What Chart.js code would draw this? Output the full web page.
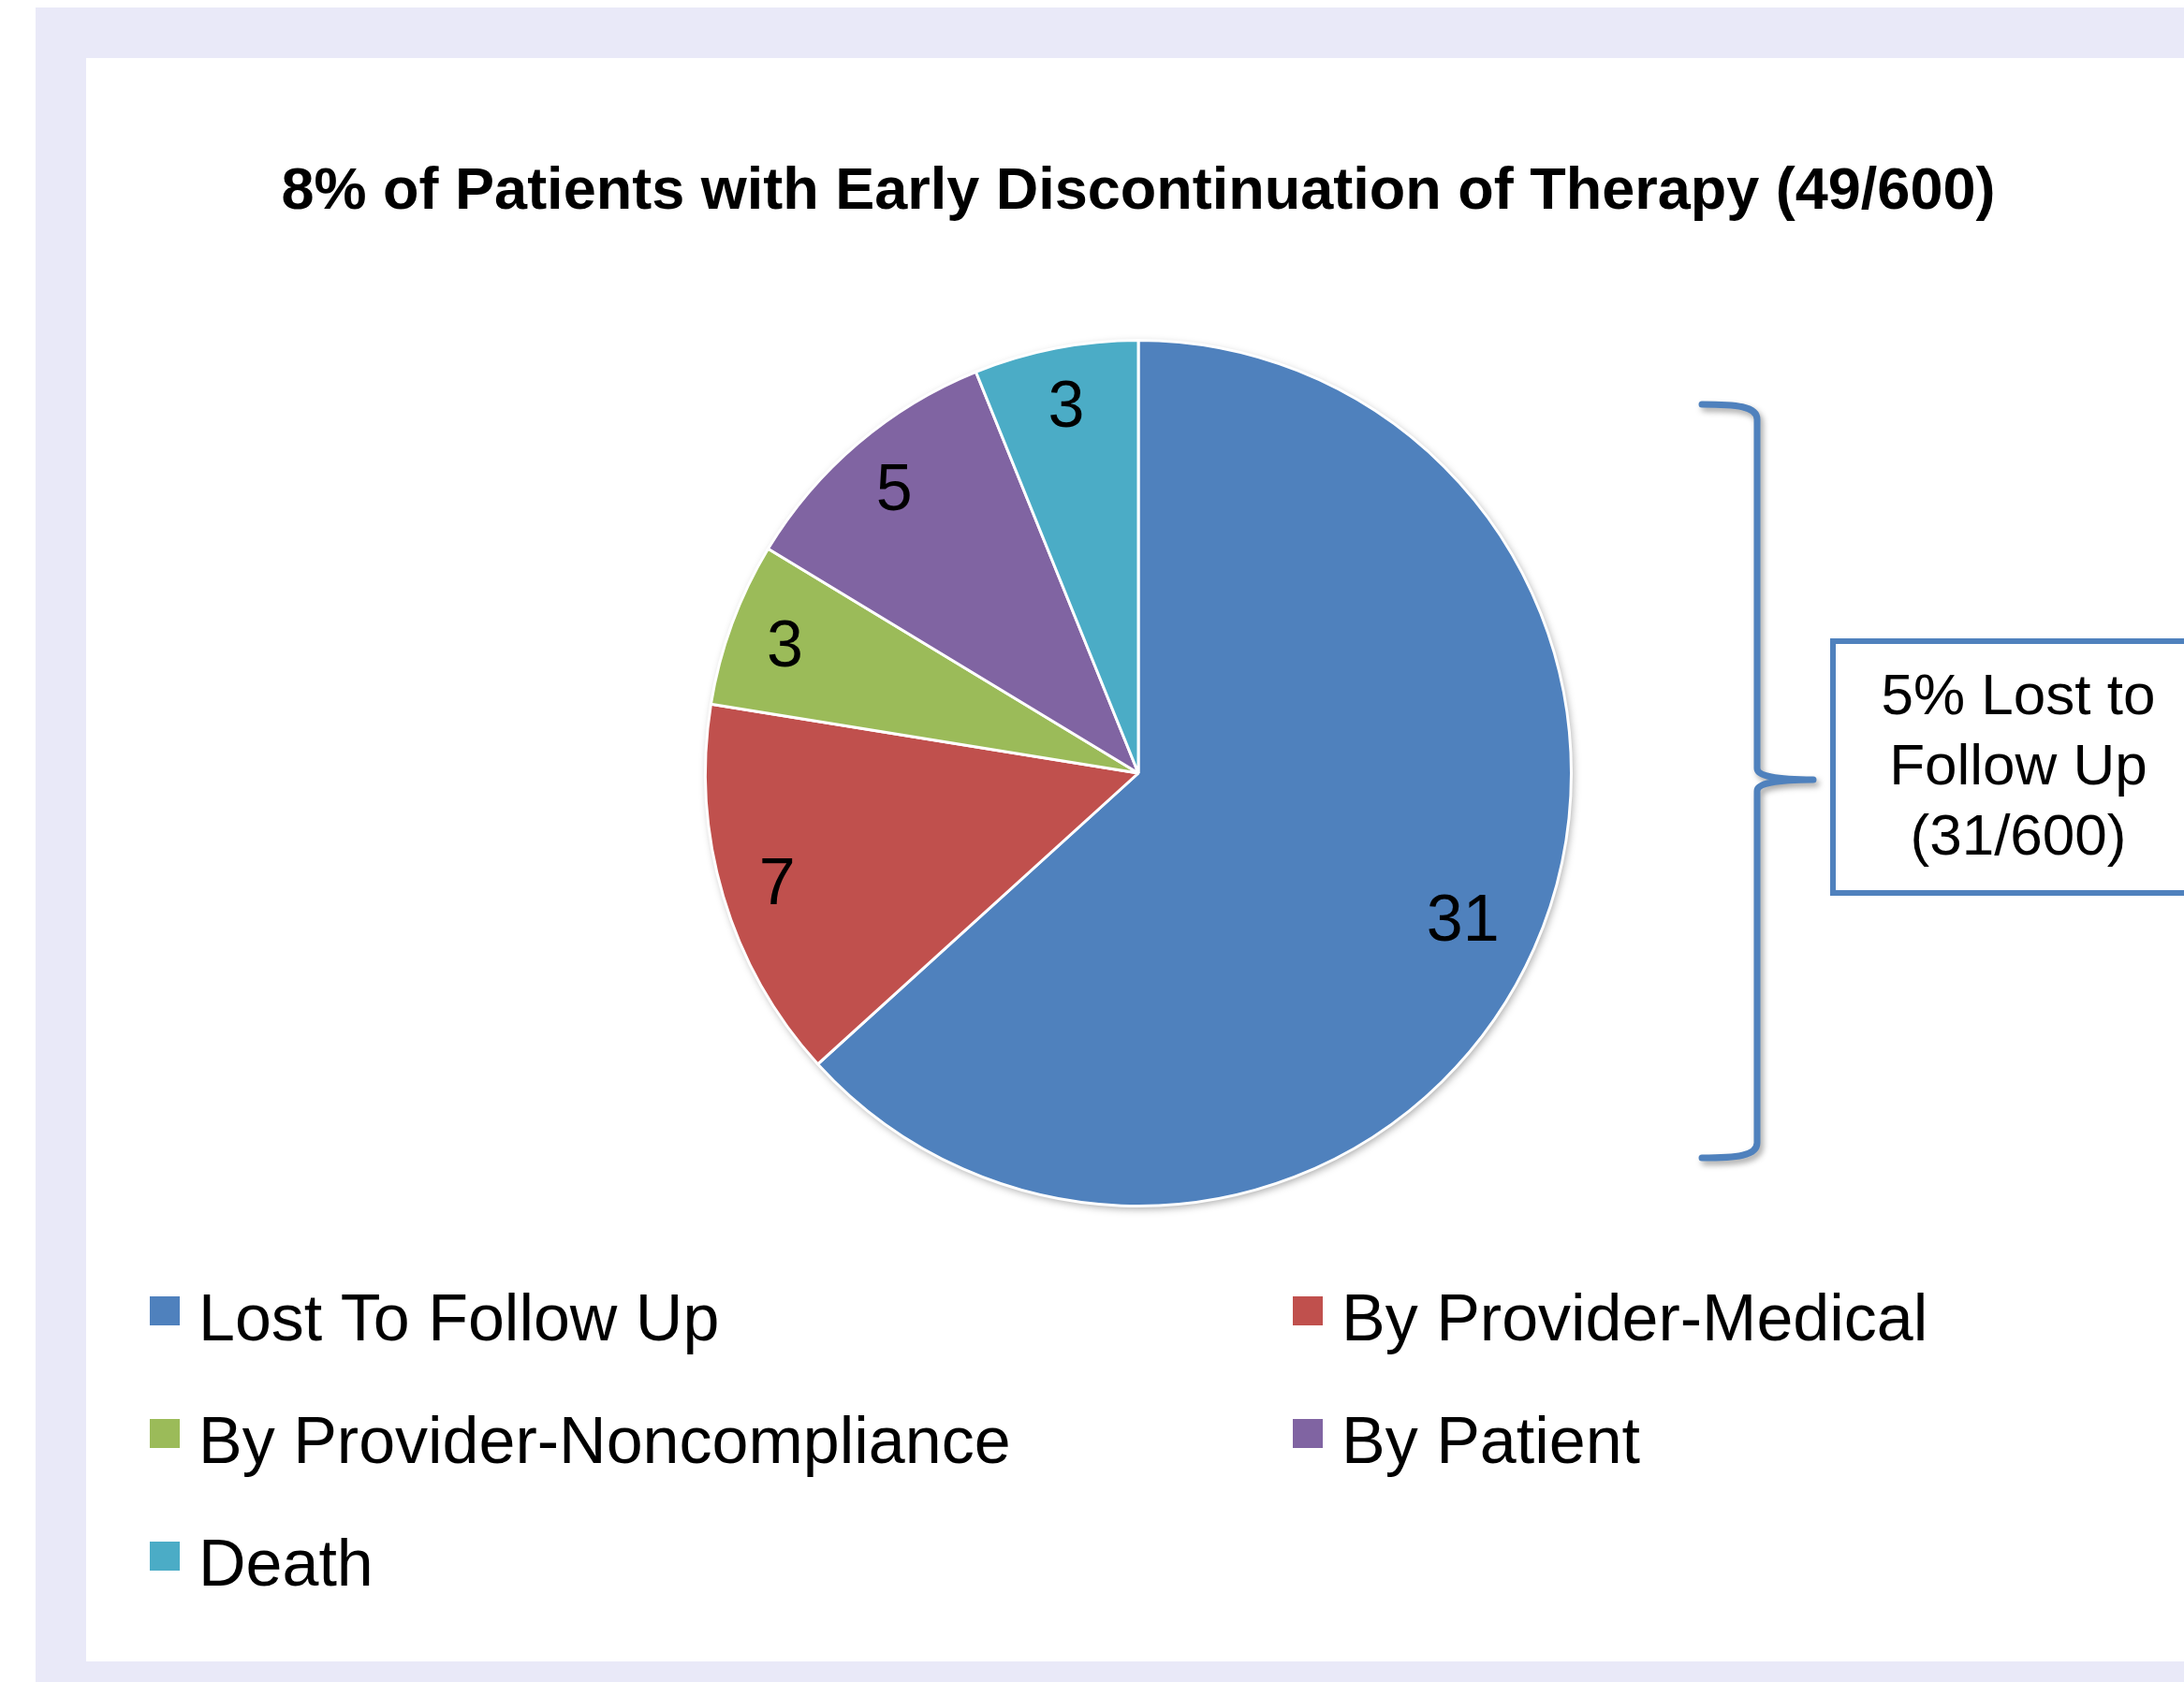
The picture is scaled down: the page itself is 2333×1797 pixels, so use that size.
<!DOCTYPE html>
<html>
<head>
<meta charset="utf-8">
<script src="https://cdn.jsdelivr.net/npm/chart.js@4"></script>
<style>
    body { margin: 0; background: #fff; width: 2333px; height: 1797px; overflow: hidden; position: relative; font-family: 'Liberation Sans', Arial, sans-serif; }
    #frame { position: absolute; left: 38px; top: 8px; width: 2295px; height: 1789px; background: #e9e9f8; }
    #panel { position: absolute; left: 92px; top: 62px; width: 2241px; height: 1713px; background: #fff; }
    #chart { position: absolute; left: 0; top: 0; }
</style>
</head>
<body>
<div id="frame"></div>
<div id="panel"></div>
<canvas id="chart" width="2333" height="1797"></canvas>
<script>
const categories = ['Lost To Follow Up', 'By Provider-Medical', 'By Provider-Noncompliance', 'By Patient', 'Death'];
const counts = [31, 7, 3, 5, 3];
const sliceColors = ['#4f81bd', '#c0504d', '#9bbb59', '#8064a2', '#4bacc6'];
const titleText = '8% of Patients with Early Discontinuation of Therapy (49/600)';
const noteLines = ['5% Lost to', 'Follow Up', '(31/600)'];

const FONT = "'Liberation Sans', Arial, sans-serif";
const BLUE = '#4f81bd';

// soft shadow behind the whole pie
const pieShadow = {
    id: 'pieShadow',
    beforeDatasetsDraw(chart) {
        const arc = chart.getDatasetMeta(0).data[0];
        if (!arc) return;
        const ctx = chart.ctx;
        ctx.save();
        ctx.shadowColor = 'rgba(0,0,0,0.35)';
        ctx.shadowBlur = 8;
        ctx.shadowOffsetX = 2;
        ctx.shadowOffsetY = 3;
        ctx.fillStyle = '#fff';
        ctx.beginPath();
        ctx.arc(arc.x, arc.y, arc.outerRadius, 0, Math.PI * 2);
        ctx.fill();
        ctx.restore();
    }
};

// value labels inside each slice
const sliceLabels = {
    id: 'sliceLabels',
    afterDatasetsDraw(chart) {
        const ctx = chart.ctx;
        const size = 70;
        ctx.save();
        ctx.font = `${size}px ${FONT}`;
        ctx.fillStyle = '#000';
        ctx.textAlign = 'center';
        ctx.textBaseline = 'alphabetic';
        chart.getDatasetMeta(0).data.forEach((arc, i) => {
            const mid = (arc.startAngle + arc.endAngle) / 2;
            const r = arc.outerRadius * (counts[i] > 20 ? 0.82 : 0.87);
            const x = arc.x + Math.cos(mid) * r;
            const y = arc.y + Math.sin(mid) * r;
            ctx.fillText(String(counts[i]), x, y + size * 0.358);
        });
        ctx.restore();
    }
};

// title, legend, brace and note box
const extras = {
    id: 'extras',
    afterDraw(chart) {
        const ctx = chart.ctx;
        const area = chart.chartArea;
        const cx = (area.left + area.right) / 2;

        ctx.save();
        ctx.fillStyle = '#000';
        ctx.textAlign = 'center';
        ctx.font = `bold 63px ${FONT}`;
        ctx.fillText(titleText, cx, 223);

        // legend, two columns
        ctx.textAlign = 'left';
        ctx.font = `70px ${FONT}`;
        const colX = [160, 1381];
        const rowY = [1432, 1563, 1694];
        categories.forEach((name, i) => {
            const x = colX[i % 2];
            const y = rowY[Math.floor(i / 2)];
            ctx.fillStyle = sliceColors[i];
            ctx.fillRect(x, y - 47, 32, 31);
            ctx.fillStyle = '#000';
            ctx.fillText(name, x + 52, y);
        });

        // brace
        ctx.save();
        ctx.strokeStyle = BLUE;
        ctx.lineWidth = 7;
        ctx.lineCap = 'round';
        ctx.lineJoin = 'round';
        ctx.shadowColor = 'rgba(0,0,0,0.35)';
        ctx.shadowBlur = 6;
        ctx.shadowOffsetX = 3;
        ctx.shadowOffsetY = 4;
        const bx = 1877, top = 432, bot = 1237, midY = 833;
        ctx.beginPath();
        ctx.moveTo(1818, top);
        ctx.bezierCurveTo(1855, top, bx, top + 2, bx, top + 16);
        ctx.lineTo(bx, midY - 12);
        ctx.quadraticCurveTo(bx, midY, 1937, midY);
        ctx.moveTo(1937, midY);
        ctx.quadraticCurveTo(bx, midY, bx, midY + 12);
        ctx.lineTo(bx, bot - 16);
        ctx.bezierCurveTo(bx, bot - 2, 1855, bot, 1818, bot);
        ctx.stroke();
        ctx.restore();

        // note box
        ctx.strokeStyle = BLUE;
        ctx.lineWidth = 6;
        ctx.strokeRect(1958, 685, 500, 269);
        ctx.fillStyle = '#000';
        ctx.textAlign = 'center';
        ctx.font = `62px ${FONT}`;
        noteLines.forEach((line, i) => ctx.fillText(line, 2156, 763 + i * 75));
        ctx.restore();
    }
};

new Chart(document.getElementById('chart').getContext('2d'), {
    type: 'pie',
    data: {
        labels: categories,
        datasets: [{
            data: counts,
            backgroundColor: sliceColors,
            borderColor: '#fff',
            borderWidth: 3
        }]
    },
    options: {
        responsive: false,
        devicePixelRatio: 1,
        animation: false,
        layout: { padding: { left: 752, right: 653, top: 362, bottom: 507 } },
        plugins: {
            legend: { display: false },
            title: { display: false },
            tooltip: { enabled: false }
        }
    },
    plugins: [pieShadow, sliceLabels, extras]
});
</script>
</body>
</html>
